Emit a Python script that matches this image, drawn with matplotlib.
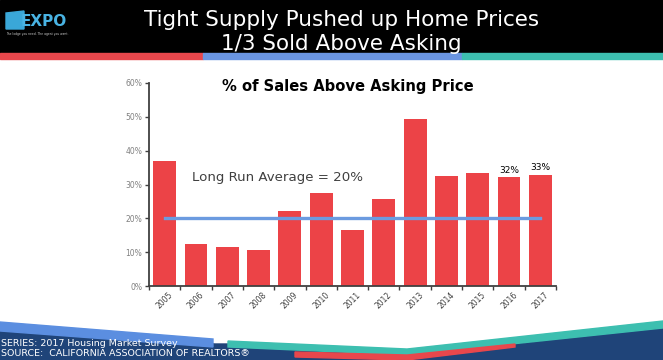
import matplotlib
matplotlib.use("Agg")
import matplotlib.pyplot as plt
from matplotlib.patches import Polygon, Rectangle

years = ["2005", "2006", "2007", "2008", "2009", "2010", "2011", "2012",
         "2013", "2014", "2015", "2016", "2017"]
pct_above = [37.0, 12.5, 11.4, 10.7, 22.3, 27.6, 16.5, 25.8, 49.5, 32.4, 33.3, 32.1, 32.9]
long_run_avg = 20
labeled = {"2016": "32%", "2017": "33%"}
ytick_vals = [0, 10, 20, 30, 40, 50, 60]
ytick_labels = ["0%", "10%", "20%", "30%", "40%", "50%", "60%"]

W, H = 663, 360
fig = plt.figure(figsize=(W / 100, H / 100), dpi=100)
fig.patch.set_facecolor("white")

# background / decoration layer in pixel coordinates
bg = fig.add_axes([0, 0, 1, 1], zorder=0)
bg.set_xlim(0, W)
bg.set_ylim(H, 0)
bg.axis("off")

bg.add_patch(Rectangle((0, 0), W, 53, color="black"))
bg.add_patch(Rectangle((0, 53), 203, 5.5, color="#e8474c"))
bg.add_patch(Rectangle((203, 53), 259, 5.5, color="#6a95e2"))
bg.add_patch(Rectangle((462, 53), W - 462, 5.5, color="#3dbfb0"))

# logo
bg.add_patch(Polygon([(6, 13), (24, 11), (24, 29), (6, 29)], closed=True, color="#3aa7d8"))
bg.text(21, 21, "EXPO", color="#49b3e3", fontsize=11, fontweight="bold",
        ha="left", va="center", family="DejaVu Sans")
bg.text(6, 34, "The lodge you need. The agent you want.", color="#cccccc",
        fontsize=2.2, ha="left", va="center")

bg.text(342, 20, "Tight Supply Pushed up Home Prices", color="white",
        fontsize=15.5, ha="center", va="center", family="DejaVu Sans")
bg.text(341, 44, "1/3 Sold Above Asking", color="white",
        fontsize=15.5, ha="center", va="center", family="DejaVu Sans")

# bottom decoration
navy = "#1f4479"
bg.add_patch(Polygon([(0, 330), (215, 344), (228, 344), (407, 357), (663, 327),
                      (663, 360), (0, 360)], closed=True, color=navy))
bg.add_patch(Polygon([(0, 322), (213, 339), (213, 347), (0, 331)],
                     closed=True, color="#5b8ee0"))
bg.add_patch(Polygon([(228, 341), (407, 349), (663, 321), (663, 328),
                      (407, 355), (228, 347)], closed=True, color="#3dbfb0"))
bg.add_patch(Polygon([(295, 352), (407, 355), (515, 344), (515, 347),
                      (407, 360), (295, 357)], closed=True, color="#e8474c"))
bg.text(1, 343, "SERIES: 2017 Housing Market Survey", color="white",
        fontsize=6.8, ha="left", va="center")
bg.text(1, 353, "SOURCE:  CALIFORNIA ASSOCIATION OF REALTORS\u00ae", color="white",
        fontsize=6.8, ha="left", va="center")

# chart
ax = fig.add_axes([149 / W, 1 - 286 / H, (556 - 149) / W, (286 - 83) / H], zorder=1)
ax.patch.set_alpha(0)
x = list(range(len(years)))
ax.bar(x, pct_above, width=0.73, color="#ec4347", zorder=2)
ax.plot([x[0], x[-1]], [long_run_avg, long_run_avg], color="#6b9be0", lw=2.4, zorder=3)

ax.set_xlim(-0.5, len(years) - 0.5)
ax.set_ylim(0, 60)
ax.set_yticks(ytick_vals)
ax.set_yticklabels(ytick_labels, fontsize=5.5, color="#808080")
ax.set_xticks(x)
ax.set_xticklabels(years, rotation=45, fontsize=5.5, color="#404040",
                   ha="center", va="top")
ax.set_xticks([i + 0.5 for i in range(-1, len(years))], minor=True)
ax.tick_params(axis="x", which="major", length=0, pad=3)
ax.tick_params(axis="x", which="minor", length=3, width=1, color="#404040")
ax.tick_params(axis="y", length=3, width=1, color="#404040", pad=2)
for s in ["top", "right"]:
    ax.spines[s].set_visible(False)
for s in ["left", "bottom"]:
    ax.spines[s].set_color("#404040")
    ax.spines[s].set_linewidth(1.3)

for i, y in enumerate(years):
    if y in labeled:
        ax.text(i, pct_above[i] + 0.8, labeled[y], ha="center", va="bottom",
                fontsize=6.5, color="black")

ax.text(0.87, 32.2, "Long Run Average = 20%", ha="left", va="center",
        fontsize=9.6, color="#404040")

bg.text(348, 87, "% of Sales Above Asking Price", ha="center", va="center",
        fontsize=10.6, fontweight="bold", color="black")

fig.savefig("out.png", dpi=100)
